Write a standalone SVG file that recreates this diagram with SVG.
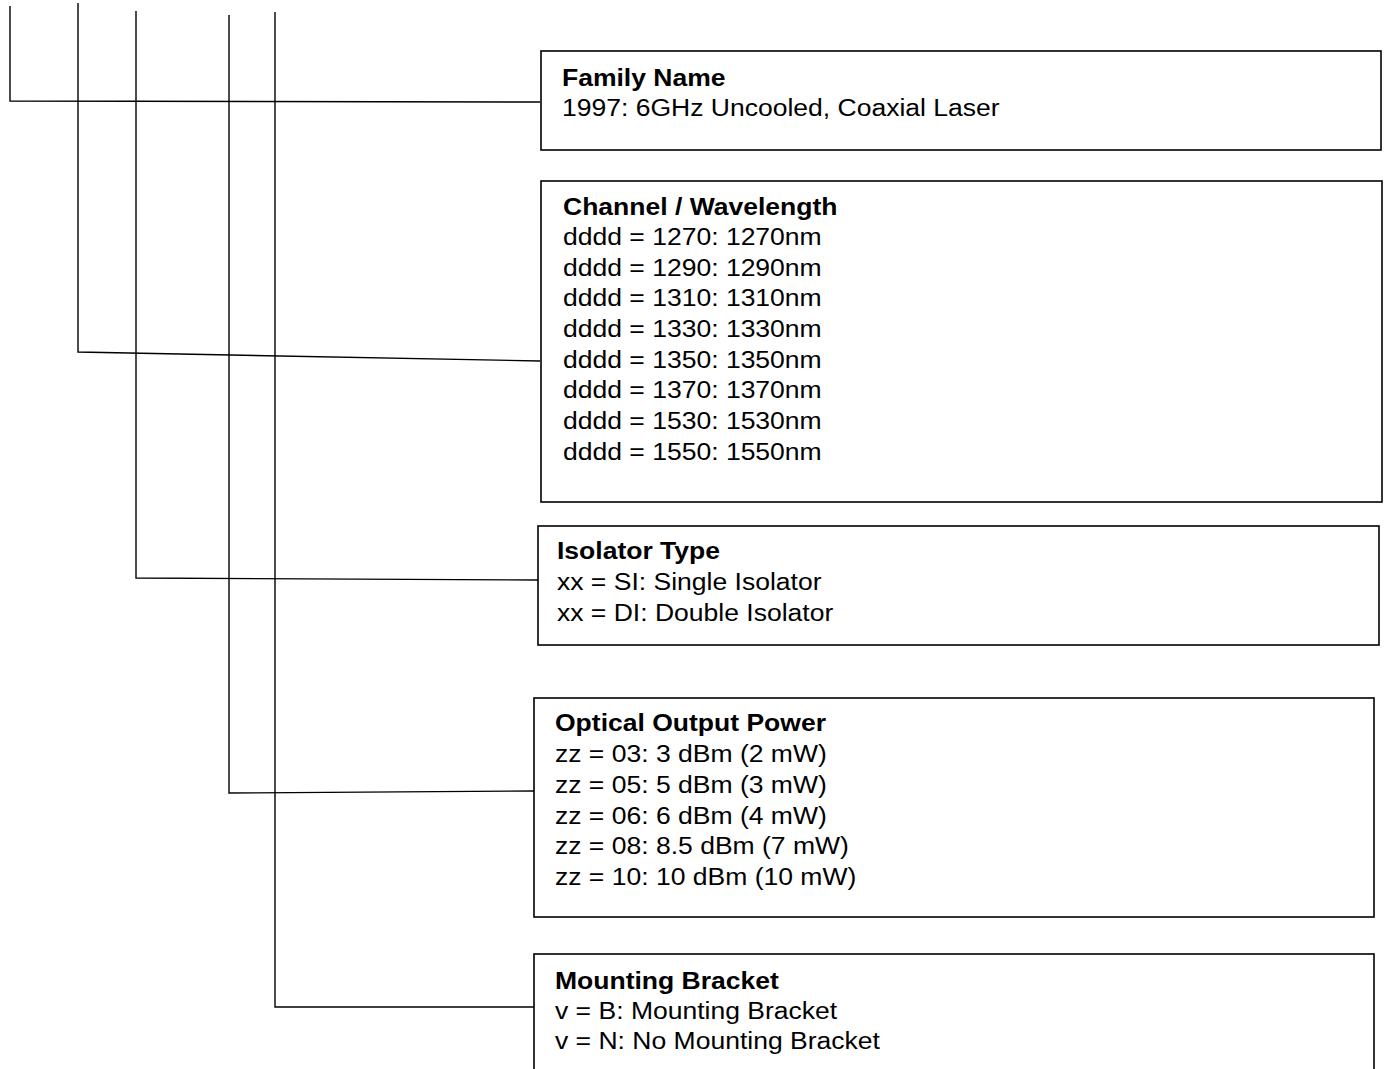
<svg xmlns="http://www.w3.org/2000/svg" width="1384" height="1069" viewBox="0 0 1384 1069">
<style>
.box{fill:#fff;stroke:#000;stroke-width:1.6}
.ln{stroke:#000;stroke-width:1.4;fill:none}
text{font-family:"Liberation Sans",Arial,sans-serif;font-size:23px;fill:#000}
.t{font-weight:bold}
</style>
<rect width="1384" height="1069" fill="#fff"/>
<g id="connectors">
<path class="ln" d="M10 6V101L540 102"/>
<path class="ln" d="M78 3V352L540 361"/>
<path class="ln" d="M136 11V578L538 580"/>
<path class="ln" d="M229 15V793L534 791"/>
<path class="ln" d="M275 12V1007H534"/>
</g>
<g id="family">
<rect class="box" x="541" y="51" width="840" height="99"/>
<g transform="translate(562 0) scale(1.153 1)">
<text class="t" x="0" y="86">Family Name</text>
<text x="0" y="116">1997: 6GHz Uncooled, Coaxial Laser</text>
</g>
</g>
<g id="channel">
<rect class="box" x="541" y="181" width="841" height="321"/>
<g transform="translate(563 0) scale(1.153 1)">
<text class="t" x="0" y="215">Channel / Wavelength</text>
<text x="0" y="245">dddd = 1270: 1270nm</text>
<text x="0" y="276">dddd = 1290: 1290nm</text>
<text x="0" y="306">dddd = 1310: 1310nm</text>
<text x="0" y="337">dddd = 1330: 1330nm</text>
<text x="0" y="368">dddd = 1350: 1350nm</text>
<text x="0" y="398">dddd = 1370: 1370nm</text>
<text x="0" y="429">dddd = 1530: 1530nm</text>
<text x="0" y="460">dddd = 1550: 1550nm</text>
</g>
</g>
<g id="isolator">
<rect class="box" x="538" y="526" width="841" height="119"/>
<g transform="translate(557 0) scale(1.153 1)">
<text class="t" x="0" y="559">Isolator Type</text>
<text x="0" y="590">xx = SI: Single Isolator</text>
<text x="0" y="621">xx = DI: Double Isolator</text>
</g>
</g>
<g id="power">
<rect class="box" x="534" y="698" width="840" height="219"/>
<g transform="translate(555 0) scale(1.153 1)">
<text class="t" x="0" y="731">Optical Output Power</text>
<text x="0" y="762">zz = 03: 3 dBm (2 mW)</text>
<text x="0" y="793">zz = 05: 5 dBm (3 mW)</text>
<text x="0" y="824">zz = 06: 6 dBm (4 mW)</text>
<text x="0" y="854">zz = 08: 8.5 dBm (7 mW)</text>
<text x="0" y="885">zz = 10: 10 dBm (10 mW)</text>
</g>
</g>
<g id="bracket">
<rect class="box" x="534" y="954" width="840" height="130"/>
<g transform="translate(555 0) scale(1.153 1)">
<text class="t" x="0" y="989">Mounting Bracket</text>
<text x="0" y="1019">v = B: Mounting Bracket</text>
<text x="0" y="1049">v = N: No Mounting Bracket</text>
</g>
</g>
</svg>
